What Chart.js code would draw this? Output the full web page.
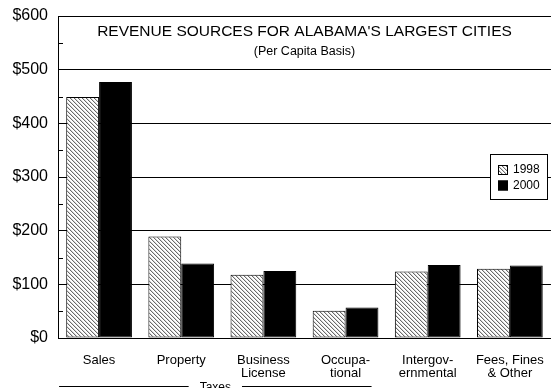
<!DOCTYPE html>
<html>
<head>
<meta charset="utf-8">
<title>Revenue Sources</title>
<script src="https://cdn.jsdelivr.net/npm/chart.js@4/dist/chart.umd.min.js"></script>
<style>
  html, body { margin: 0; padding: 0; background: #fff; overflow: hidden; }
  #wrap { width: 560px; height: 388px; }
</style>
</head>
<body>
<div id="wrap"><canvas id="revenueChart" width="560" height="388"></canvas></div>
<script>
// datos por categoria (dolares per capita)
const categories = ['Sales', 'Property', ['Business', 'License'], ['Occupa-', 'tional'], ['Intergov-', 'ernmental'], ['Fees, Fines', '& Other']];
const years = ['1998', '2000'];
const values1998 = [449, 189, 118, 51, 124, 129];
const values2000 = [477, 139, 125, 57, 136, 135];
const yTicks = [0, 100, 200, 300, 400, 500, 600];
const titleText = "REVENUE SOURCES FOR ALABAMA'S LARGEST CITIES";
const subtitleText = '(Per Capita Basis)';
const groupLabel = 'Taxes';
const groupFirst = 0;
const groupLast = 3;

const FONT = "'Liberation Sans', Arial, sans-serif";

// patron de rayas diagonales para 1998
function makeHatch() {
    const c = document.createElement('canvas');
    c.width = 4; c.height = 4;
    const g = c.getContext('2d');
    g.fillStyle = '#fff';
    g.fillRect(0, 0, 4, 4);
    g.fillStyle = '#6a6a6a';
    for (let i = 0; i < 4; i++) g.fillRect(i, i, 1, 1);
    g.fillStyle = '#d8d8d8';
    for (let i = 0; i < 4; i++) g.fillRect((i + 1) % 4, i, 1, 1);
    return g.createPattern(c, 'repeat');
}
const hatch = makeHatch();

// titulo, marcas menores, leyenda y llave de "Taxes"
const extras = {
    id: 'extras',
    afterDraw(chart) {
        const ctx = chart.ctx;
        const area = chart.chartArea;
        const x = chart.scales.x;
        const y = chart.scales.y;
        ctx.save();

        // titulo dentro del area
        const cx = (area.left + area.right) / 2;
        ctx.fillStyle = '#000';
        ctx.textAlign = 'center';
        ctx.textBaseline = 'middle';
        ctx.font = '15.5px ' + FONT;
        ctx.fillText(titleText, cx, area.top + 16);
        ctx.font = '12.5px ' + FONT;
        ctx.fillText(subtitleText, cx, area.top + 36);

        // marcas menores hacia adentro cada 50
        ctx.strokeStyle = '#000';
        ctx.lineWidth = 1;
        for (let v = 50; v < 600; v += 100) {
            const py = Math.round(y.getPixelForValue(v)) + 0.5;
            ctx.beginPath();
            ctx.moveTo(area.left, py);
            ctx.lineTo(area.left + 5, py);
            ctx.stroke();
        }

        // leyenda
        const lx = 490.5, ly = 154.5, lw = 57, lh = 45;
        ctx.fillStyle = '#fff';
        ctx.fillRect(lx, ly, lw, lh);
        ctx.strokeRect(lx, ly, lw, lh);
        ctx.font = '12px ' + FONT;
        ctx.textAlign = 'left';
        chart.data.datasets.forEach((ds, i) => {
            const sy = 165 + i * 15.5;
            ctx.fillStyle = ds.backgroundColor;
            ctx.fillRect(498, sy, 10, 10);
            ctx.strokeStyle = '#000';
            ctx.strokeRect(498.5, sy + 0.5, 9, 9);
            ctx.fillStyle = '#000';
            ctx.fillText(ds.label, 513, sy + 5);
        });

        // llave de impuestos bajo las categorias
        const x0 = x.getPixelForValue(groupFirst) - 40;
        const x1 = x.getPixelForValue(groupLast) + 26;
        const mid = (x0 + x1) / 2;
        const ty = 386.5;
        ctx.font = '12px ' + FONT;
        ctx.textAlign = 'center';
        ctx.textBaseline = 'top';
        ctx.fillText(groupLabel, mid, 382);
        const half = ctx.measureText(groupLabel).width / 2 + 11;
        ctx.beginPath();
        ctx.moveTo(x0, ty); ctx.lineTo(mid - half, ty);
        ctx.moveTo(mid + half, ty); ctx.lineTo(x1, ty);
        ctx.stroke();
        ctx.restore();
    }
};

new Chart(document.getElementById('revenueChart').getContext('2d'), {
    type: 'bar',
    data: {
        labels: categories,
        datasets: [
            {
                label: years[0],
                data: values1998,
                backgroundColor: hatch,
                borderColor: '#000',
                borderWidth: 1,
                borderSkipped: false
            },
            {
                label: years[1],
                data: values2000,
                backgroundColor: '#000',
                borderColor: '#000',
                borderWidth: 1,
                borderSkipped: false
            }
        ]
    },
    options: {
        responsive: false,
        animation: false,
        events: [],
        layout: { padding: { top: 16, right: 2, bottom: 0, left: 0 } },
        datasets: {
            bar: { barPercentage: 1, categoryPercentage: 0.8 }
        },
        plugins: {
            legend: { display: false },
            title: { display: false },
            tooltip: { enabled: false }
        },
        scales: {
            x: {
                afterFit(scale) { scale.height = 50; },
                grid: { display: false, drawTicks: false },
                border: { display: true, color: '#000', width: 1 },
                ticks: {
                    color: '#000',
                    padding: 16,
                    maxRotation: 0,
                    autoSkip: false,
                    font: { family: FONT, size: 13, lineHeight: 1.0 }
                }
            },
            y: {
                min: 0,
                max: 600,
                afterFit(scale) {
                    scale.width = 58;
                    scale.paddingTop = 0;
                    scale.paddingBottom = 0;
                },
                afterBuildTicks(scale) { scale.ticks = yTicks.map(v => ({ value: v })); },
                grid: { color: '#000', lineWidth: 1, drawTicks: false },
                border: { display: true, color: '#000', width: 1 },
                ticks: {
                    color: '#000',
                    padding: 10,
                    font: { family: FONT, size: 16 },
                    callback: v => '$' + v
                }
            }
        }
    },
    plugins: [extras]
});
</script>
</body>
</html>
